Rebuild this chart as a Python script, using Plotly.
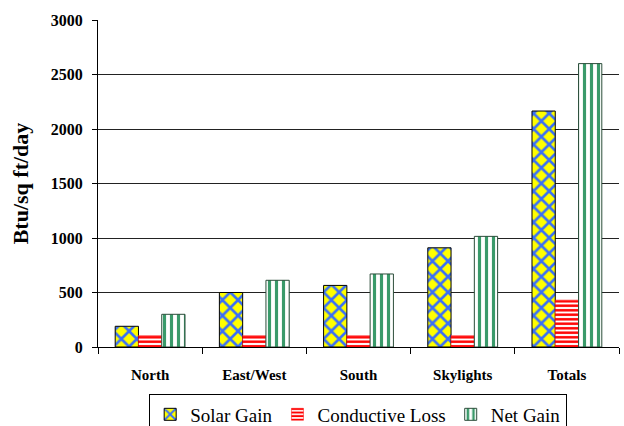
import plotly.graph_objects as go

# data
categories = ["North", "East/West", "South", "Skylights", "Totals"]
solar_gain = [190, 500, 565, 910, 2165]
conductive_loss = [105, 105, 105, 105, 430]
net_gain = [300, 612, 670, 1015, 2600]

serif = "Liberation Serif"

fig = go.Figure()
fig.add_trace(go.Bar(
    x=categories, y=solar_gain, name="Solar Gain",
    marker=dict(color="#ffff00", line=dict(color="black", width=1),
                pattern=dict(shape="x", fgcolor="#3a6ff7", bgcolor="#ffff00",
                             size=11, solidity=0.42, fillmode="replace", fgopacity=1)),
))
fig.add_trace(go.Bar(
    x=categories, y=conductive_loss, name="Conductive Loss",
    marker=dict(color="white", line=dict(color="#ff0000", width=0.5),
                pattern=dict(shape="-", fgcolor="#ff0000", bgcolor="white",
                             size=4.5, solidity=0.55, fillmode="replace", fgopacity=1)),
))
fig.add_trace(go.Bar(
    x=categories, y=net_gain, name="Net Gain",
    marker=dict(color="white", line=dict(color="#2b4d3a", width=1),
                pattern=dict(shape="|", fgcolor="#3a9a6a", bgcolor="white",
                             size=7, solidity=0.45, fillmode="replace", fgopacity=1)),
))

fig.update_layout(
    width=624, height=426,
    margin=dict(l=98, r=5, t=20, b=79),
    paper_bgcolor="white", plot_bgcolor="white",
    barmode="group", bargap=0.33, bargroupgap=0,
    font=dict(family=serif, color="black"),
    showlegend=True,
    legend=dict(orientation="h", x=0.574, xref="container", xanchor="center",
                y=0.074, yref="container", yanchor="top",
                font=dict(family=serif, size=19, color="black"),
                bordercolor="black", borderwidth=1,
                itemwidth=30, tracegroupgap=0),
    xaxis=dict(showline=True, linecolor="black", linewidth=1, automargin=False,
               ticks="outside", ticklen=6, tickcolor="black", tickson="boundaries",
               ticklabelstandoff=14,
               tickfont=dict(family=serif, size=15, weight="bold")),
    yaxis=dict(range=[0, 3000], dtick=500, showline=True, linecolor="black", linewidth=1,
               automargin=False,
               ticks="outside", ticklen=5, tickcolor="black", ticklabelstandoff=6,
               showgrid=True, gridcolor="#222222", gridwidth=1, zeroline=False,
               tickfont=dict(family=serif, size=16, weight="bold"),
               title=dict(text="Btu/sq ft/day", font=dict(family=serif, size=22, weight="bold"),
                          standoff=16)),
)

# drop the default page margin so the figure sits at the window's corner
fig.write_html("out.html", config={"displayModeBar": False},
               post_script="document.body.style.margin='0px';")
